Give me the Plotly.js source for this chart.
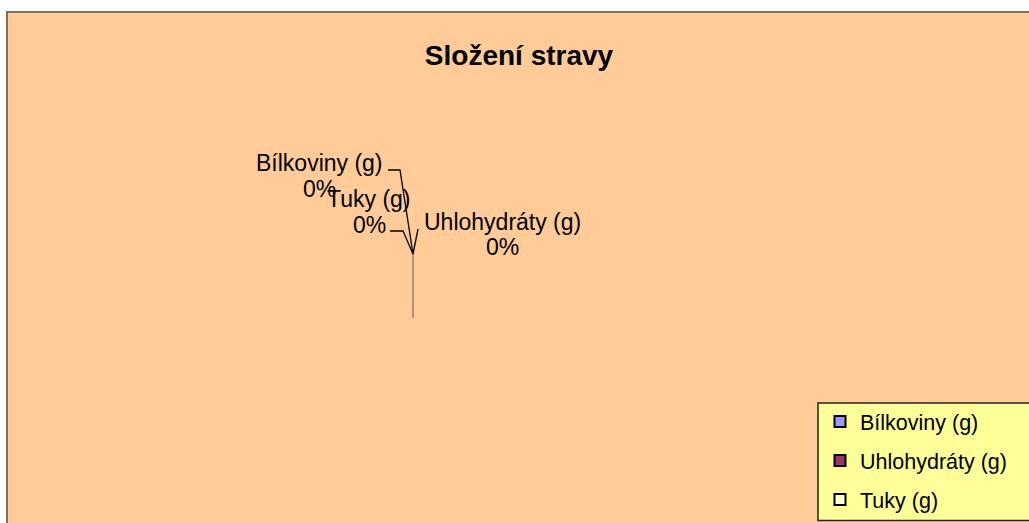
<!DOCTYPE html>
<html>
<head>
<meta charset="utf-8">
<script src="https://cdn.plot.ly/plotly-3.0.1.min.js"></script>
<style>html,body{margin:0;padding:0;background:#fff}#chart{width:1029px;height:523px}</style>
</head>
<body>
<div id="chart"></div>
<script>
// ---- data ----
const categories = ["Bílkoviny (g)", "Uhlohydráty (g)", "Tuky (g)"];
const values = [0, 0, 0];
const sliceColors = ["#9999FF", "#993366", "#FFFFCC"];
const chartTitle = "Složení stravy";

// ---- layout constants (pixel positions inside the 1029x523 page) ----
const W = 1029, H = 523;
const plotL = 7, plotT = 12;
const center = [413, 254];
const radiusEnd = [413, 318];
// label anchor positions: [x, nameY, pctY]
const labelPos = {
  "Bílkoviny (g)": [319, 163, 189],
  "Tuky (g)": [369, 199, 225],
  "Uhlohydráty (g)": [502, 222, 247]
};
const leaderPaths = {
  "Bílkoviny (g)": [[388, 170], [400, 170], center],
  "Tuky (g)": [[390, 231], [403, 231], center],
  "Uhlohydráty (g)": [[418, 229], center]
};
const legendBox = [818, 403, 1040, 520.5];

const total = values.reduce((a, b) => a + b, 0);
const pct = values.map(v => total > 0 ? Math.round(100 * v / total) : 0);

const font = "Arial, 'Liberation Sans', sans-serif";

const annotations = [];
const shapes = [];
categories.forEach((c, i) => {
  const p = labelPos[c];
  annotations.push({x: p[0], y: p[1], xref: 'x', yref: 'y', text: c, showarrow: false,
    xanchor: 'center', yanchor: 'middle', font: {family: font, size: 23, color: '#000'}});
  annotations.push({x: p[0], y: p[2], xref: 'x', yref: 'y', text: pct[i] + '%', showarrow: false,
    xanchor: 'center', yanchor: 'middle', font: {family: font, size: 23, color: '#000'}});
  const pts = leaderPaths[c];
  const d = 'M' + pts.map(q => q[0] + ',' + q[1]).join(' L');
  shapes.push({type: 'path', xref: 'x', yref: 'y', path: d, line: {color: '#000', width: 1.3}, layer: 'above'});
});
shapes.push({type: 'line', xref: 'x', yref: 'y', x0: center[0], y0: center[1], x1: radiusEnd[0], y1: radiusEnd[1],
  line: {color: '#857260', width: 1.3}, layer: 'above'});
shapes.push({type: 'rect', xref: 'paper', yref: 'paper', x0: 0, x1: 1.01, y0: -0.01, y1: 1,
  line: {color: '#7a7060', width: 2}, fillcolor: 'rgba(0,0,0,0)', layer: 'above'});
// legend box
shapes.push({type: 'rect', xref: 'x', yref: 'y', x0: legendBox[0], y0: legendBox[1], x1: legendBox[2], y1: legendBox[3],
  line: {color: '#222', width: 1.5}, fillcolor: '#FFFF99', layer: 'above'});

const traces = [{
  type: 'pie',
  labels: categories,
  values: values,
  marker: {colors: sliceColors, line: {color: '#000', width: 2}},
  textinfo: 'none',
  sort: false,
  hoverinfo: 'none',
  showlegend: false,
  domain: {x: [0.3, 0.5], y: [0.3, 0.7]}
}];
// legend entries for each category (zero-valued slices are not listed by the pie legend)
categories.forEach((c, i) => {
  traces.push({
    type: 'scatter', mode: 'markers', name: c, x: [null], y: [null],
    legendgroup: 'g' + i, showlegend: true,
    marker: {symbol: 'square', size: 11, color: sliceColors[i], line: {color: '#000', width: 2}}
  });
});

const layout = {
  width: W, height: H,
  margin: {l: plotL, r: 0, t: plotT, b: 0, autoexpand: false},
  paper_bgcolor: '#ffffff',
  plot_bgcolor: '#FFCC99',
  title: {text: '<b>' + chartTitle + '</b>', x: 519 / W, xanchor: 'center', y: 1 - 55 / H, yanchor: 'middle', yref: 'container',
    font: {family: font, size: 28, color: '#000'}},
  xaxis: {range: [plotL, W], showgrid: false, zeroline: false, showticklabels: false, ticks: '', fixedrange: true},
  yaxis: {range: [H, plotT], showgrid: false, zeroline: false, showticklabels: false, ticks: '', fixedrange: true},
  showlegend: true,
  legend: {x: (820 - plotL) / (W - plotL), xanchor: 'left', y: (H - 401) / (H - plotT), yanchor: 'top',
    bgcolor: 'rgba(0,0,0,0)', borderwidth: 0,
    font: {family: font, size: 21.5, color: '#000'}, tracegroupgap: 8},
  annotations: annotations,
  shapes: shapes
};

Plotly.newPlot('chart', traces, layout, {staticPlot: true, displayModeBar: false});
</script>
</body>
</html>
